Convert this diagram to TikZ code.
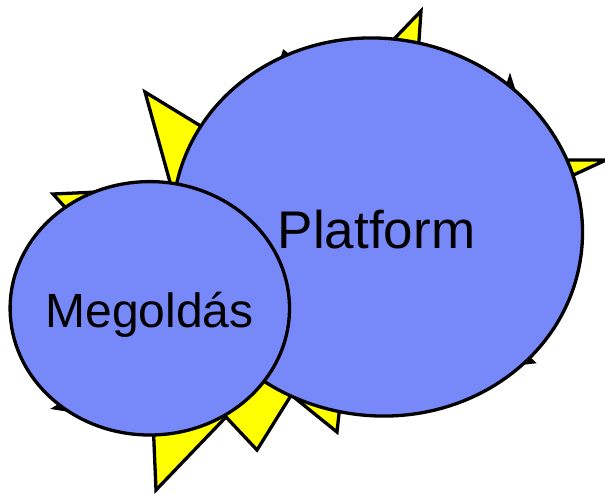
\documentclass[tikz,border=0pt]{standalone}
\usepackage{fontspec}
\setmainfont{Liberation Sans}
\usetikzlibrary{shapes.geometric}
\definecolor{blobblue}{RGB}{119,136,248}
\definecolor{staryellow}{RGB}{255,255,0}
\tikzset{
  outline/.style={draw=black, line width=3.3pt},
  blob/.style={outline, ellipse, fill=blobblue, inner sep=0pt},
  burst/.style={outline, fill=staryellow, line join=miter, miter limit=20},
  lbl/.style={anchor=base, inner sep=0pt, text=black}
}
\begin{document}
\begin{tikzpicture}[x=1pt, y=-1pt]
\useasboundingbox (0,0) rectangle (605,493);
% starburst behind the two blobs
\draw[burst]
  (371,63) -- (421,11) -- (417,70) --
  (500,110) -- (510,78) -- (520,110) --
  (540,160) -- (606,160) -- (541,190) --
  (515,345) -- (533,362) -- (505,365) --
  (341,395) -- (337,432) -- (285,390) --
  (300,381) -- (257,450) -- (226,417) -- (156,490) -- (153,420) --
  (80,412) -- (55,408) -- (72,398) --
  (83,227) -- (53,194) -- (120,191) --
  (175,200) -- (145,92) -- (240,150) --
  (275,80) -- (284,52) -- (300,65) -- cycle;
% blobs
\node[blob, minimum width=411pt, minimum height=377pt, rotate=-10] (platform) at (377.5,227) {};
\node[blob, minimum width=279.4pt, minimum height=253.4pt] (megoldas) at (149.8,308.3) {};
% labels
\node[lbl, font=\fontsize{53}{60}\selectfont] (platformtxt) at (376.5,248) {Platform};
\node[lbl, font=\fontsize{48}{54}\selectfont] (megoldastxt) at (149.5,327) {Megoldás};
\end{tikzpicture}
\end{document}
